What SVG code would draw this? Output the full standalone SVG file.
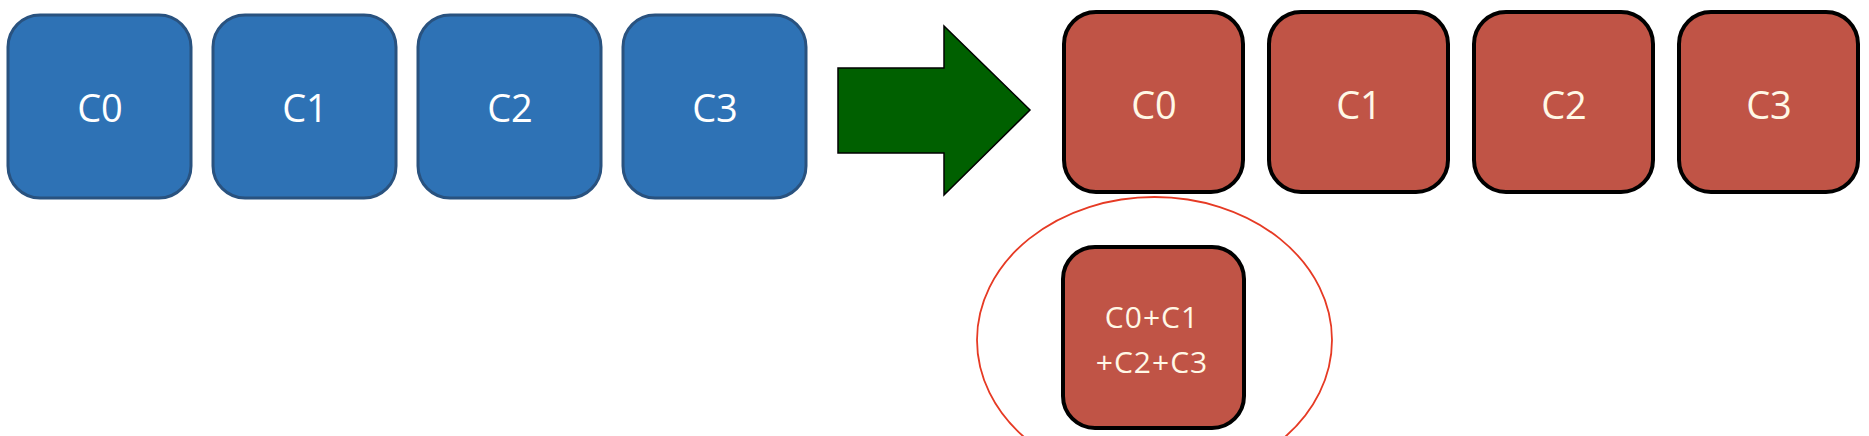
<svg xmlns="http://www.w3.org/2000/svg" width="1869" height="436" viewBox="0 0 1869 436">
<style>
.blue{fill:#2e72b5;stroke:#29527f;stroke-width:3}
.red{fill:#c05446;stroke:#000;stroke-width:4}
.lbl{font-family:"Open Sans","Noto Sans",sans-serif;font-size:38px;text-anchor:middle}
.bl{fill:#fff}
.rl{fill:#fff8e6}
.sm{font-size:30px;letter-spacing:1px}
</style>
<rect width="1869" height="436" fill="#fff"/>
<g id="ellipse"><ellipse cx="1154.5" cy="340" rx="177.5" ry="143" fill="none" stroke="#e63a24" stroke-width="1.8"/></g>
<g id="b0"><rect class="blue" x="8" y="15" width="183" height="183" rx="32"/><text class="lbl bl" x="100" y="122">C0</text></g>
<g id="b1"><rect class="blue" x="213" y="15" width="183" height="183" rx="32"/><text class="lbl bl" x="305" y="122">C1</text></g>
<g id="b2"><rect class="blue" x="418" y="15" width="183" height="183" rx="32"/><text class="lbl bl" x="510" y="122">C2</text></g>
<g id="b3"><rect class="blue" x="623" y="15" width="183" height="183" rx="32"/><text class="lbl bl" x="715" y="122">C3</text></g>
<g id="connectors"><polygon points="838,68 944,68 944,26 1030,110 944,195 944,153 838,153" fill="#006000" stroke="#000" stroke-width="1.5"/></g>
<g id="r0"><rect class="red" x="1064" y="12" width="179" height="180" rx="32"/><text class="lbl rl" x="1154" y="119">C0</text></g>
<g id="r1"><rect class="red" x="1269" y="12" width="179" height="180" rx="32"/><text class="lbl rl" x="1359" y="119">C1</text></g>
<g id="r2"><rect class="red" x="1474" y="12" width="179" height="180" rx="32"/><text class="lbl rl" x="1564" y="119">C2</text></g>
<g id="r3"><rect class="red" x="1679" y="12" width="179" height="180" rx="32"/><text class="lbl rl" x="1769" y="119">C3</text></g>
<g id="sum"><rect class="red" x="1063" y="247" width="181" height="181" rx="32"/><text class="lbl rl sm" x="1152" y="328">C0+C1</text><text class="lbl rl sm" x="1152" y="373">+C2+C3</text></g>
</svg>
